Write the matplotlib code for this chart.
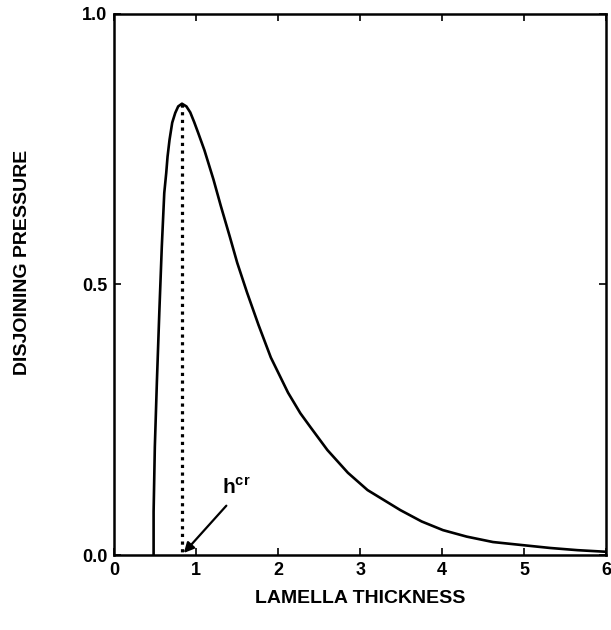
import matplotlib.pyplot as plt

plt.rcParams['font.family'] = ['Liberation Sans', 'DejaVu Sans']
plt.rcParams['font.weight'] = 'bold'
plt.rcParams['mathtext.fontset'] = 'custom'
plt.rcParams['mathtext.bf'] = 'Liberation Sans:bold'
plt.rcParams['mathtext.rm'] = 'Liberation Sans:bold'

# values
thickness = [0.48, 0.48, 0.495, 0.52, 0.55, 0.58, 0.61, 0.634, 0.65, 0.674, 0.707,
             0.744, 0.78, 0.826, 0.88, 0.927, 0.975, 1.024, 1.10, 1.21, 1.30, 1.41,
             1.50, 1.62, 1.76, 1.91, 2.12, 2.27, 2.39, 2.60, 2.85, 3.09, 3.49, 3.75,
             4.01, 4.30, 4.62, 5.00, 5.32, 5.65, 6.00]
pressure = [0.0, 0.08, 0.20, 0.32, 0.45, 0.57, 0.669, 0.706, 0.736, 0.767, 0.799,
            0.817, 0.829, 0.834, 0.829, 0.818, 0.80, 0.780, 0.748, 0.694, 0.645, 0.588,
            0.54, 0.485, 0.425, 0.365, 0.30, 0.262, 0.237, 0.194, 0.152, 0.12, 0.083,
            0.062, 0.046, 0.034, 0.024, 0.018, 0.013, 0.009, 0.006]
h_cr = 0.826
p_max = 0.834

fig = plt.figure(figsize=(6.11, 6.30), dpi=100)
ax = fig.add_axes([0.187, 0.119, 0.805, 0.859])

ax.plot(thickness, pressure, color='black', lw=1.9)
ax.plot([h_cr, h_cr], [p_max, 0], color='black', lw=2.3, linestyle=(0, (1, 1.4)))

ax.annotate('', xy=(h_cr, 0.0), xytext=(1.39, 0.095),
            arrowprops=dict(arrowstyle='-|>', color='black', lw=1.6, mutation_scale=15))
ax.text(1.32, 0.105, r'$\mathbf{h}^{\mathbf{cr}}$', fontsize=15, ha='left', va='bottom')

ax.set_xlim(0, 6)
ax.set_ylim(0, 1)
ax.set_xticks([0, 1, 2, 3, 4, 5, 6])
ax.set_yticks([0.0, 0.5, 1.0])
ax.set_yticklabels(['0.0', '0.5', '1.0'])
ax.tick_params(direction='in', length=5, width=1.2, labelsize=13,
               top=True, right=True, pad=5)
for s in ax.spines.values():
    s.set_linewidth(1.8)

ax.set_xlabel('LAMELLA THICKNESS', fontsize=14, fontweight='bold', labelpad=8)
ax.set_ylabel('DISJOINING PRESSURE', fontsize=14, fontweight='bold')
ax.yaxis.set_label_coords(-0.17, 0.54)

fig.savefig('out.png', dpi=100)
